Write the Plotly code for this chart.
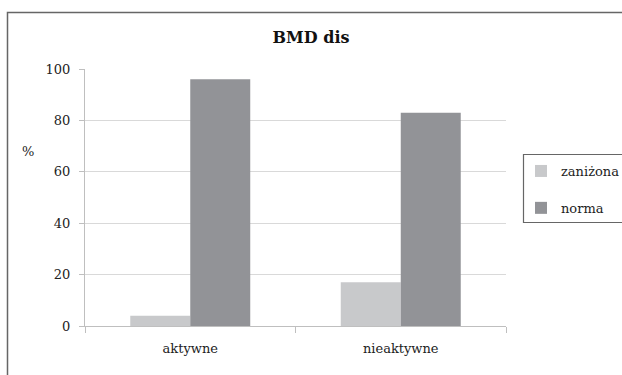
import plotly.graph_objects as go

categories = ["aktywne", "nieaktywne"]
zanizona = [4, 17]
norma = [96, 83]
series_names = ["zaniżona", "norma"]
y_ticks = [0, 20, 40, 60, 80, 100]

W, H = 622, 375
L, R, T, B = 85, 116, 69, 49
pw, ph = W - L - R, H - T - B

def px(x):
    return (x - L) / pw

def py(y):
    return (H - B - y) / ph

font_family = "DejaVu Serif"

fig = go.Figure()
fig.add_trace(go.Bar(x=categories, y=zanizona, name=series_names[0],
                     marker=dict(color="#c8c9cb", line=dict(width=0)),
                     legendgroup="a"))
fig.add_trace(go.Bar(x=categories, y=norma, name=series_names[1],
                     marker=dict(color="#929397", line=dict(width=0)),
                     legendgroup="b"))

fig.update_layout(
    width=W, height=H,
    margin=dict(l=L, r=R, t=T, b=B, autoexpand=False),
    paper_bgcolor="white", plot_bgcolor="white",
    barmode="group", bargap=0.43, bargroupgap=0,
    font=dict(family=font_family, size=13, color="#222222"),
    title=dict(text="<b>BMD dis</b>", x=0.5, xref="container",
               xanchor="center", y=1 - 37 / H, yanchor="middle",
               font=dict(family=font_family, size=16, color="#111111")),
    showlegend=True,
    legend=dict(x=px(521), y=py(156), xanchor="left", yanchor="top",
                traceorder="grouped", tracegroupgap=17,
                bgcolor="rgba(0,0,0,0)", borderwidth=0,
                font=dict(family=font_family, size=13, color="#222222")),
    xaxis=dict(showline=True, linecolor="#bfbfbf", linewidth=1,
               ticks="outside", tickson="boundaries", ticklen=6,
               tickcolor="#bfbfbf", showgrid=False, ticklabelstandoff=10),
    yaxis=dict(range=[0, 100], tickvals=y_ticks, showline=True,
               linecolor="#bfbfbf", linewidth=1, ticks="outside", ticklen=5,
               tickcolor="#bfbfbf", gridcolor="#d9d9d9", gridwidth=1,
               zeroline=False, ticklabelstandoff=6),
    shapes=[
        dict(type="rect", xref="paper", yref="paper",
             x0=px(7.5), x1=px(640), y0=py(12.5), y1=py(400),
             line=dict(color="#666666", width=1.5), fillcolor="rgba(0,0,0,0)",
             layer="below"),
        dict(type="rect", xref="paper", yref="paper",
             x0=px(523.5), x1=px(640), y0=py(154.5), y1=py(222.5),
             line=dict(color="#666666", width=1.2), fillcolor="rgba(0,0,0,0)"),
    ],
    annotations=[
        dict(text="%", xref="paper", yref="paper", x=px(28), y=py(151),
             xanchor="center", yanchor="middle", showarrow=False,
             font=dict(family=font_family, size=13, color="#222222")),
    ],
)

fig.write_html("out.html", config={"displayModeBar": False},
               post_script="document.body.style.margin='0';")
